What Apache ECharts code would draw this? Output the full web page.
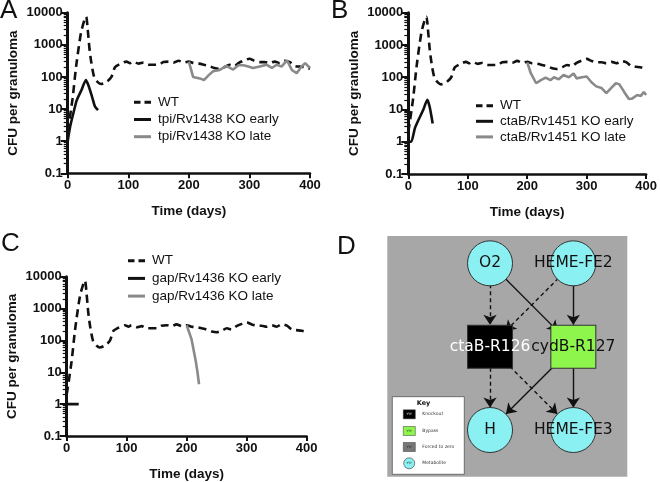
<!DOCTYPE html>
<html><head><meta charset="utf-8">
<script src="https://cdn.jsdelivr.net/npm/echarts@6/dist/echarts.min.js"></script>
<style>html,body{margin:0;padding:0;background:#fff}#c{width:660px;height:482px}</style>
</head><body><div id="c"></div>
<script>
// ---------- data ----------
const wtDays = [0,8,14,22,28,30.5,33,36,39,44,50,55,64,72,78,86,97,103,108,117,125,133,142,150,158,167,175,183,192,200,208,217,225,233,242,250,258,267,275,283,292,300,308,317,325,333,342,350,358,367,375,383,392,400];
const wtVals = [2,21,220,2400,6200,7500,3100,740,280,95,68,60,70,98,200,250,300,270,300,260,280,240,240,240,290,300,280,320,280,300,270,260,240,220,190,180,200,240,220,280,330,370,320,290,290,270,300,270,320,290,220,210,200,180];

const aEarlyDays = [0,4,9,15,23,30,34,40,45,50];
const aEarlyVals = [1,2.8,7,19,40,80,56,25,12,9.3];
const aLateDays = [200,207,218,225,232,240,251,262,273,282,290,298,306,317,328,337,345,353,362,370,378,386,392,400];
const aLateVals = [300,100,90,80,110,150,165,220,170,230,230,210,190,210,240,190,240,210,330,165,130,210,270,190];

const bEarlyDays = [0,5,11,17,25,32,36,41];
const bEarlyVals = [1,1,2.6,4.7,9.6,20,12,3.7];
const bLateDays = [200,206,215,223,231,239,245,253,261,270,278,283,292,300,308,316,325,333,341,349,355,363,371,377,385,391,396,400];
const bLateVals = [290,133,65,81,97,81,100,86,117,100,130,92,100,105,70,52,46,32,46,65,60,35,21,22,28,26,35,28];

const cEarlyDays = [0,20];
const cEarlyVals = [1,1];
const cLateDays = [200,208,215,218,220.5];
const cLateVals = [300,110,23,10,4.2];

const panelNames = [
  ['WT','tpi/Rv1438 KO early','tpi/Rv1438 KO late'],
  ['WT','ctaB/Rv1451 KO early','ctaB/Rv1451 KO late'],
  ['WT','gap/Rv1436 KO early','gap/Rv1436 KO late']
];
const xTicks = [0,100,200,300,400];
const yTickVals = [0.1,1,10,100,1000,10000];
const yTickLabels = ['0.1','1','10','100','1000','10000'];
const yMinorVals = [0.2,0.3,0.4,0.5,0.6,0.7,0.8,0.9,2,3,4,5,6,7,8,9,20,30,40,50,60,70,80,90,200,300,400,500,600,700,800,900,2000,3000,4000,5000,6000,7000,8000,9000];

// network panel D
const netNodes = [
  {name:'O2', col:0, row:0, kind:'met'},
  {name:'HEME-FE2', col:1, row:0, kind:'met'},
  {name:'ctaB-R126', col:0, row:1, kind:'ko'},
  {name:'cydB-R127', col:1, row:1, kind:'bypass'},
  {name:'H', col:0, row:2, kind:'met'},
  {name:'HEME-FE3', col:1, row:2, kind:'met'}
];
const netLinks = [
  ['O2','ctaB-R126','dashed'],
  ['O2','cydB-R127','solid'],
  ['HEME-FE2','ctaB-R126','dashed'],
  ['HEME-FE2','cydB-R127','solid'],
  ['ctaB-R126','H','dashed'],
  ['ctaB-R126','HEME-FE3','dashed'],
  ['cydB-R127','H','solid'],
  ['cydB-R127','HEME-FE3','solid']
];
const keyItems = ['Knockout','Bypass','Forced to zero','Metabolite'];

// ---------- build ----------
const zip = (a,b)=>a.map((d,i)=>[d,b[i]]);
const FONT = 'Liberation Sans, Arial, sans-serif';
const grids = [
  {left:67.7, right:350, top:12.7, bottom:308.7},
  {left:408.3, right:9.3, top:12.7, bottom:308},
  {left:66.7, right:353.3, top:276.7, bottom:43.7},
  {left:387.3, right:32.7, top:236, bottom:5.3, show:true, backgroundColor:'#a7a7a7', borderWidth:0}
];
const xAxes = [], yAxes = [], series = [], legends = [];
const legendPos = [{left:134, top:95.3, gap:3.2}, {left:476, top:98.7, gap:1.6}, {left:128, top:253.7, gap:3.7}];
const earlyD = [aEarlyDays,bEarlyDays,cEarlyDays], earlyV=[aEarlyVals,bEarlyVals,cEarlyVals];
const lateD = [aLateDays,bLateDays,cLateDays], lateV=[aLateVals,bLateVals,cLateVals];
const DASH_ICON = 'path://M0,0h6.5v3h-6.5zM10.5,0h6.5v3h-6.5z';
const SOLID_ICON = 'path://M0,0h17v3h-17z';

for (let p=0;p<3;p++){
  xAxes.push({
    type:'value', gridIndex:p, min:0, max:400, interval:100,
    name:'Time (days)', nameLocation:'middle', nameGap:31,
    nameTextStyle:{fontFamily:FONT, fontWeight:'bold', fontSize:13.5, color:'#111'},
    axisLine:{lineStyle:{color:'#111', width:2.5}},
    axisTick:{length:5, lineStyle:{width:2, color:'#111'}},
    axisLabel:{margin:6, fontFamily:FONT, fontWeight:'bold', fontSize:13, color:'#111'},
    splitLine:{show:false}
  });
  yAxes.push({
    type:'log', logBase:10, gridIndex:p, min:0.1, max:10000, position:'left',
    name:'CFU per granuloma', nameLocation:'middle', nameGap:47,
    nameTextStyle:{fontFamily:FONT, fontWeight:'bold', fontSize:13.5, color:'#111'},
    axisLine:{lineStyle:{color:'#111', width:3}},
    axisTick:{length:7, customValues:yTickVals, lineStyle:{width:2, color:'#111'}},
    axisLabel:{margin:5, customValues:yTickVals, fontFamily:FONT, fontWeight:'bold', fontSize:13, color:'#111',
      formatter:(v)=>{const i=yTickVals.findIndex(t=>Math.abs(Math.log10(t)-Math.log10(v))<1e-6); return i>=0?yTickLabels[i]:'';}},
    splitLine:{show:false}
  });
  yAxes.push({
    type:'log', logBase:10, gridIndex:p, min:0.1, max:10000, position:'left', offset:0,
    axisLine:{show:false},
    axisTick:{length:4, customValues:yMinorVals, lineStyle:{width:1.2, color:'#111'}},
    axisLabel:{show:false}, splitLine:{show:false}
  });
  const yi = p*2;
  const names = panelNames[p];
  series.push({type:'line', name:names[0], xAxisIndex:p, yAxisIndex:yi, data:zip(wtDays,wtVals), symbol:'none', smooth:0.25,
    lineStyle:{color:'#111', width:2.6, type:[8,5]}, itemStyle:{color:'#111'}});
  series.push({type:'line', name:names[1], xAxisIndex:p, yAxisIndex:yi, data:zip(earlyD[p],earlyV[p]), symbol:'none', smooth:0.2,
    lineStyle:{color:'#111', width:2.6}, itemStyle:{color:'#111'}});
  series.push({type:'line', name:names[2], xAxisIndex:p, yAxisIndex:yi, data:zip(lateD[p],lateV[p]), symbol:'none',
    lineStyle:{color:'#8a8a8a', width:2.6}, itemStyle:{color:'#8a8a8a'}});
  legends.push({
    data:[{name:names[0], icon:DASH_ICON},{name:names[1], icon:SOLID_ICON},{name:names[2], icon:SOLID_ICON}],
    orient:'vertical', left:legendPos[p].left, top:legendPos[p].top,
    itemWidth:17, itemHeight:3, itemGap:legendPos[p].gap, padding:0, selectedMode:false,
    textStyle:{fontFamily:FONT, fontSize:13.5, color:'#111', padding:[0,0,0,2]}
  });
}

// panel D axes
xAxes.push({type:'value', gridIndex:3, min:-1.233, max:1.648, show:false});
yAxes.push({type:'value', gridIndex:3, min:-0.328, max:2.56, inverse:true, show:false});
const CYAN='#8bf0f2', GREEN='#8ef54c';
series.push({
  type:'graph', coordinateSystem:'cartesian2d', xAxisIndex:3, yAxisIndex:6,
  data: netNodes.map(n=>({
    name:n.name, value:[n.col,n.row],
    symbol: n.kind==='met'?'circle':'rect',
    symbolSize: n.kind==='met'?45:[45,43],
    itemStyle:{color: n.kind==='met'?CYAN:(n.kind==='ko'?'#000':GREEN), borderColor:'#333', borderWidth:1},
    label:{show:true, position:'inside', color: n.kind==='ko'?'#fff':'#111', fontFamily:'DejaVu Sans', fontSize:15.5}
  })),
  links: netLinks.map(l=>({source:l[0], target:l[1], lineStyle:{type: l[2]==='dashed'?[4,3]:'solid'}})),
  edgeSymbol:['none','arrow'], edgeSymbolSize:10,
  lineStyle:{color:'#111', width:1.4, opacity:1, curveness:0},
  emphasis:{disabled:true}, silent:true, z:3
});

const keySw = [
  {fill:'#000', circle:false}, {fill:GREEN, circle:false}, {fill:'#777', circle:false}, {fill:CYAN, circle:true}
];
const letters = [['A',0,11.2],['B',331,11],['C',1,244],['D',337,246.5]];
const g2 = letters.map(l=>({type:'text', x:l[1], y:l[2], style:{text:l[0], fill:'#111', font:'26px "Liberation Sans", Arial', verticalAlign:'middle', align:'left'}}));
g2.push({type:'rect', shape:{x:392.3, y:396.7, width:72, height:77.6}, style:{fill:'#fff', stroke:'#555', lineWidth:0.8}, z:10});
g2.push({type:'text', x:423.5, y:403.5, style:{text:'Key', fill:'#111', font:'bold 6.5px "DejaVu Sans"', align:'center', verticalAlign:'middle'}, z:11});
const rowsY=[414.3,431,447,463.3];
keyItems.forEach((t,i)=>{
  const sw=keySw[i];
  if (sw.circle) g2.push({type:'circle', shape:{cx:409.2, cy:rowsY[i], r:5.5}, style:{fill:sw.fill, stroke:'#333', lineWidth:0.6}, z:11});
  else g2.push({type:'rect', shape:{x:403.3, y:rowsY[i]-4.5, width:12, height:9}, style:{fill:sw.fill, stroke:'#333', lineWidth:0.5}, z:11});
  g2.push({type:'text', x:409.2, y:rowsY[i], style:{text:'YYY', fill: i===0?'#fff':'#111', font:'3px "DejaVu Sans"', align:'center', verticalAlign:'middle'}, z:12});
  g2.push({type:'text', x:422.3, y:rowsY[i], style:{text:t, fill:'#333', font:'4.5px "DejaVu Sans"', align:'left', verticalAlign:'middle'}, z:11});
});

const chart = echarts.init(document.getElementById('c'), null, {renderer:'canvas'});
chart.setOption({
  animation:false,
  backgroundColor:'#fff',
  grid:grids, xAxis:xAxes, yAxis:yAxes, series:series, legend:legends, graphic:g2
});
</script></body></html>
